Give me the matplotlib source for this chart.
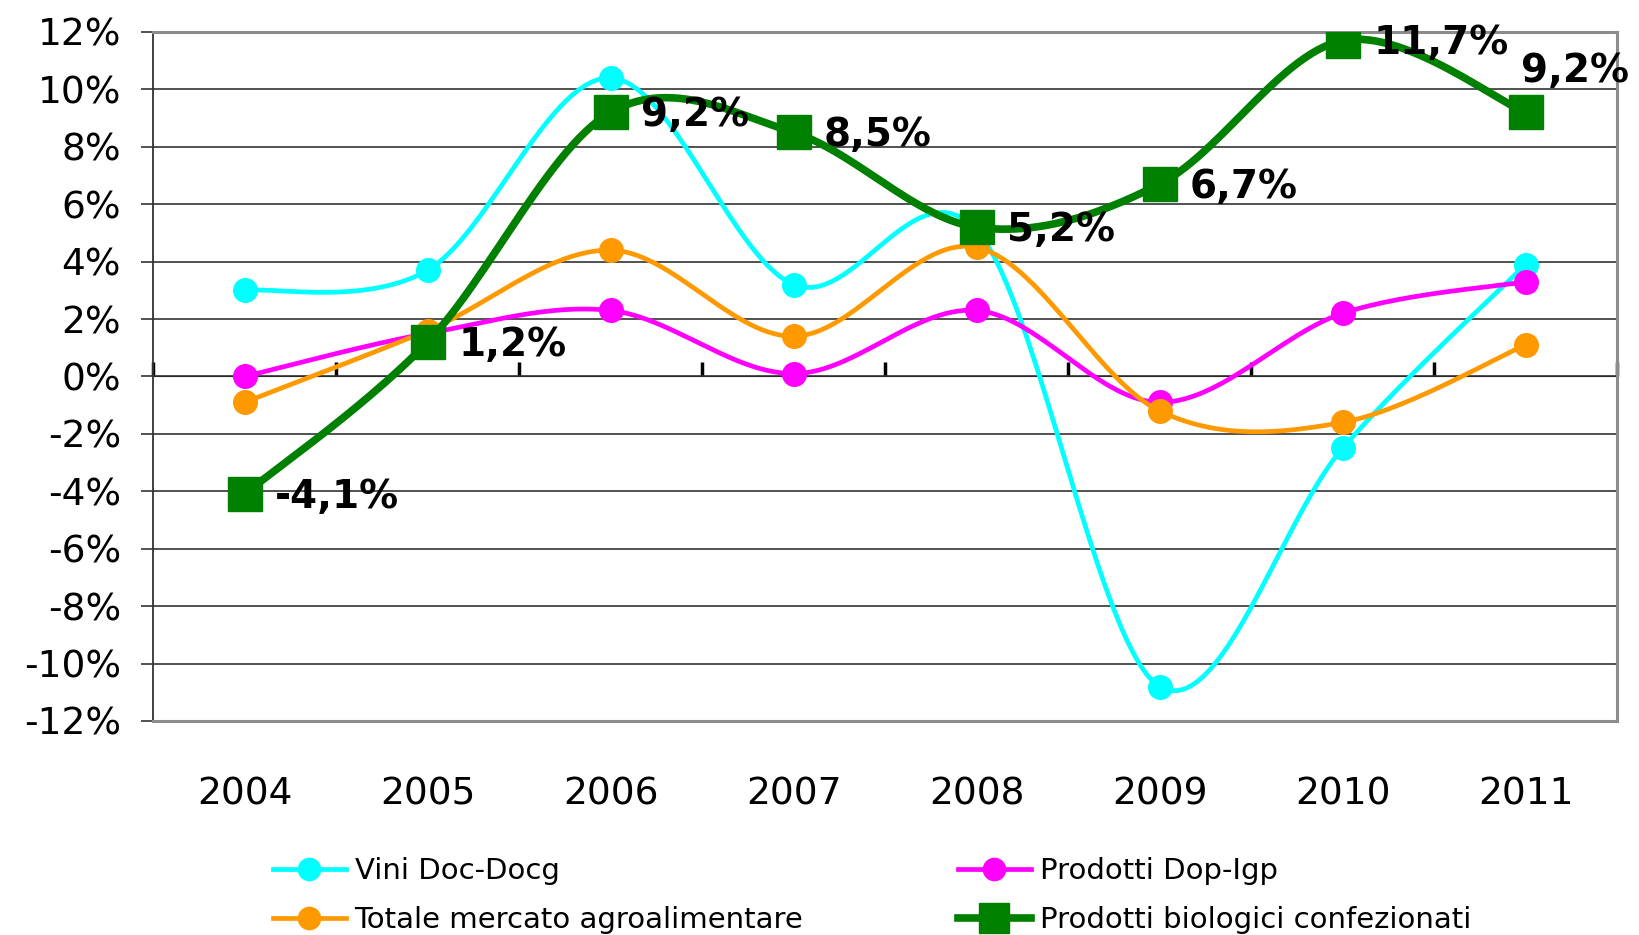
import matplotlib
matplotlib.use('Agg')
import matplotlib.pyplot as plt
import numpy as np
from matplotlib.ticker import PercentFormatter
from matplotlib.lines import Line2D

years = ['2004', '2005', '2006', '2007', '2008', '2009', '2010', '2011']
vini = [3.0, 3.7, 10.4, 3.2, 5.1, -10.8, -2.5, 3.9]
dop_igp = [0.0, 1.5, 2.3, 0.1, 2.3, -0.9, 2.2, 3.3]
totale = [-0.9, 1.6, 4.4, 1.4, 4.5, -1.2, -1.6, 1.1]
biologici = [-4.1, 1.2, 9.2, 8.5, 5.2, 6.7, 11.7, 9.2]

names = ['Vini Doc-Docg', 'Prodotti Dop-Igp', 'Totale mercato agroalimentare',
         'Prodotti biologici confezionati']
colors = ['#00FFFF', '#FF00FF', '#FF9900', '#008000']


def smooth(x, y, n=30):
    # excel-like smoothed line: cubic bezier with catmull-rom control points
    x = np.asarray(x, float)
    y = np.asarray(y, float)
    px = np.concatenate([[x[0]], x, [x[-1]]])
    py = np.concatenate([[y[0]], y, [y[-1]]])
    xs, ys = [], []
    t = np.linspace(0, 1, n)
    for i in range(1, len(px) - 2):
        p0 = np.array([px[i], py[i]])
        p3 = np.array([px[i + 1], py[i + 1]])
        c1 = p0 + (p3 - np.array([px[i - 1], py[i - 1]])) / 6
        c2 = p3 - (np.array([px[i + 2], py[i + 2]]) - p0) / 6
        b = ((1 - t) ** 3)[:, None] * p0 + (3 * (1 - t) ** 2 * t)[:, None] * c1 \
            + (3 * (1 - t) * t ** 2)[:, None] * c2 + (t ** 3)[:, None] * p3
        xs.extend(b[:, 0])
        ys.extend(b[:, 1])
    return np.array(xs), np.array(ys)


plt.rcParams['font.family'] = ['DejaVu Sans']
plt.rcParams['axes.unicode_minus'] = False

fig = plt.figure(figsize=(16.39, 9.35), dpi=100)
ax = fig.add_axes([0.0934, 0.2289, 0.8932, 0.7369])

x = np.arange(len(years))
series = [vini, dop_igp, totale, biologici]
for i, (vals, col) in enumerate(zip(series, colors)):
    sx, sy = smooth(x, vals)
    if i == 3:
        ax.plot(sx, sy, color=col, lw=5.5, zorder=5, solid_capstyle='round')
        ax.plot(x, vals, ls='none', marker='s', ms=25, color=col, zorder=6)
    else:
        ax.plot(sx, sy, color=col, lw=3.4, zorder=3 + i * 0.1, solid_capstyle='round')
        ax.plot(x, vals, ls='none', marker='o', ms=17, color=col, zorder=3 + i * 0.1)

# data labels for the organic products
for i, v in enumerate(biologici):
    txt = f'{v:.1f}%'.replace('.', ',')
    if i == len(biologici) - 1:
        ax.annotate(txt, (x[i], v), xytext=(-3, 30), textcoords='offset points',
                    ha='left', va='center', fontsize=28, fontweight='bold', zorder=7)
    else:
        ax.annotate(txt, (x[i], v), xytext=(22, -2), textcoords='offset points',
                    ha='left', va='center', fontsize=28, fontweight='bold', zorder=7)

ax.set_xlim(-0.5, len(years) - 0.5)
ax.set_ylim(-12, 12)
ax.set_yticks(np.arange(-12, 13, 2))
ax.yaxis.set_major_formatter(PercentFormatter(decimals=0))
ax.grid(axis='y', color='#333333', lw=1.2)
ax.set_axisbelow(True)

ax.set_xticks(x)
ax.set_xticklabels(years)
ax.tick_params(axis='x', length=0, pad=40, labelsize=27)
ax.tick_params(axis='y', length=9, width=1.2, color='#333333', pad=14, labelsize=27)

for s in ['top', 'right', 'bottom']:
    ax.spines[s].set_color('#8c8c8c')
    ax.spines[s].set_linewidth(2.2)
ax.spines['left'].set_color('#333333')
ax.spines['left'].set_linewidth(1.3)

# zero axis with tick marks between the categories
zax = ax.secondary_xaxis(0.5)
zax.set_xticks(np.arange(-0.5, len(years), 1))
zax.tick_params(axis='x', direction='out', length=10, width=2.5, labelbottom=False,
                labeltop=False, color='black')
zax.spines['bottom'].set_linewidth(3.5)
zax.spines['bottom'].set_color('black')

handles = []
for i, col in enumerate(colors):
    handles.append(Line2D([], [], color=col, lw=5.5 if i == 3 else 3.4,
                          marker='s' if i == 3 else 'o', ms=21 if i == 3 else 16))
# legend is filled row by row in the reference
order = [0, 2, 1, 3]
fig.legend([handles[k] for k in order], [names[k] for k in order], ncol=2,
           loc='upper left', bbox_to_anchor=(0.1665, 0.083),
           frameon=False, fontsize=21, handlelength=2.5, handletextpad=0.3,
           columnspacing=5.3, labelspacing=0.7, borderpad=0, borderaxespad=0)

fig.savefig('out.png', dpi=100)
